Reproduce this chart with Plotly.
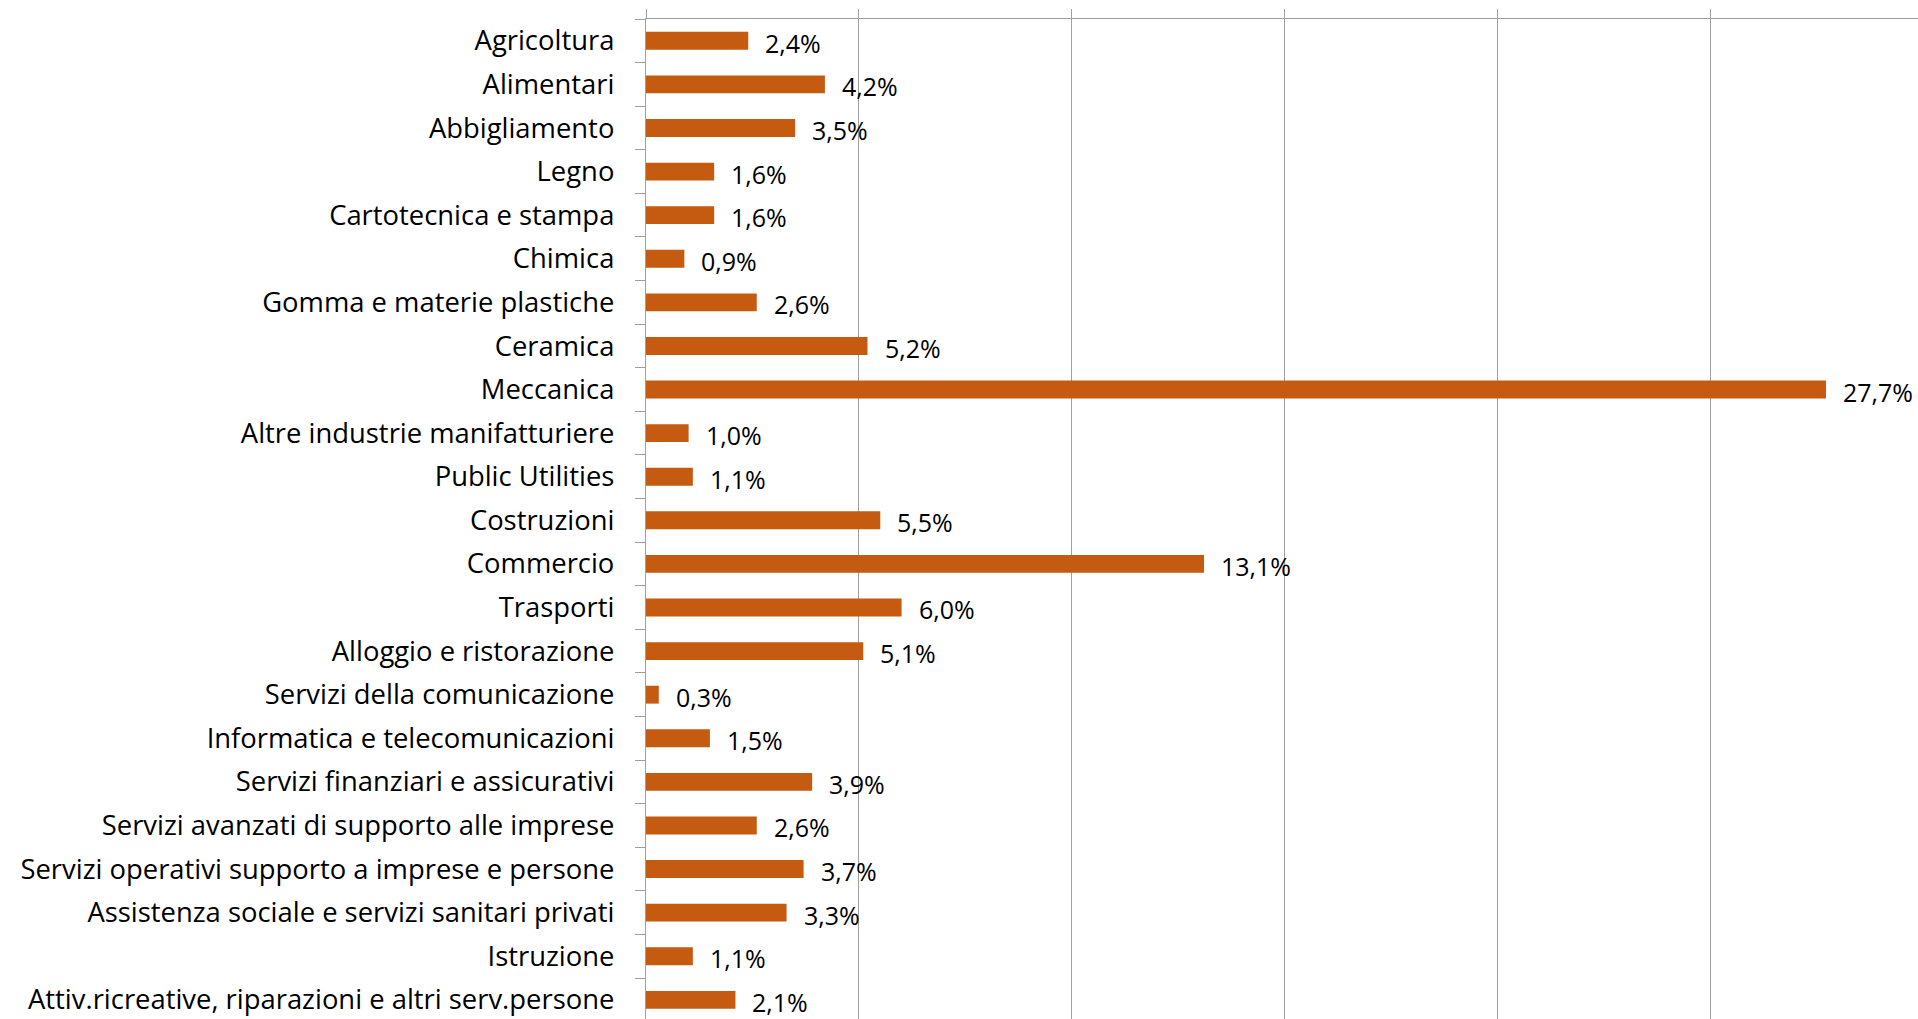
import plotly.graph_objects as go

categories = [
    "Agricoltura", "Alimentari", "Abbigliamento", "Legno", "Cartotecnica e stampa",
    "Chimica", "Gomma e materie plastiche", "Ceramica", "Meccanica",
    "Altre industrie manifatturiere", "Public Utilities", "Costruzioni", "Commercio",
    "Trasporti", "Alloggio e ristorazione", "Servizi della comunicazione",
    "Informatica e telecomunicazioni", "Servizi finanziari e assicurativi",
    "Servizi avanzati di supporto alle imprese",
    "Servizi operativi supporto a imprese e persone",
    "Assistenza sociale e servizi sanitari privati", "Istruzione",
    "Attiv.ricreative, riparazioni e altri serv.persone",
]
values = [2.4, 4.2, 3.5, 1.6, 1.6, 0.9, 2.6, 5.2, 27.7, 1.0, 1.1, 5.5, 13.1,
          6.0, 5.1, 0.3, 1.5, 3.9, 2.6, 3.7, 3.3, 1.1, 2.1]
x_gridlines = [0, 5, 10, 15, 20, 25]

labels = [f"{v:.1f}".replace(".", ",") + "%" for v in values]

FONT = "Segoe UI, Open Sans, Noto Sans, sans-serif"
BAR = "#C55A11"
GRID = "#A0A0A0"

fig = go.Figure(go.Bar(
    x=values, y=categories, orientation="h",
    marker=dict(color=BAR, line=dict(width=0)),
    width=0.41,
    hoverinfo="skip",
))

for c, v, t in zip(categories, values, labels):
    fig.add_annotation(x=v, y=c, text=t, showarrow=False, xanchor="left",
                       xshift=15, yshift=-2,
                       font=dict(family=FONT, size=25, color="#000000"))

fig.update_layout(
    width=1918, height=1019,
    template="none",
    paper_bgcolor="white", plot_bgcolor="white",
    margin=dict(l=646, r=0, t=19, b=0, autoexpand=False),
    showlegend=False,
    font=dict(family=FONT, size=25, color="#000000"),
    xaxis=dict(
        side="top", range=[0, 29.86], tickvals=x_gridlines,
        showticklabels=False, ticks="outside", ticklen=9, tickcolor=GRID, tickwidth=1.3,
        showline=True, linecolor=GRID, linewidth=1.3,
        showgrid=True, gridcolor=GRID, gridwidth=1.3,
        zeroline=False, automargin=False,
    ),
    yaxis=dict(
        range=[22.44, -0.5], tickson="boundaries", ticks="outside", ticklen=10,
        tickcolor=GRID, tickwidth=1.3,
        showline=True, linecolor=GRID, linewidth=1.3,
        showgrid=False, zeroline=False, automargin=False,
        ticklabelstandoff=25,
        tickfont=dict(family=FONT, size=27.4, color="#000000"),
    ),
)

fig.write_html("out.html", config={"displayModeBar": False},
               post_script="document.body.style.margin='0';")
